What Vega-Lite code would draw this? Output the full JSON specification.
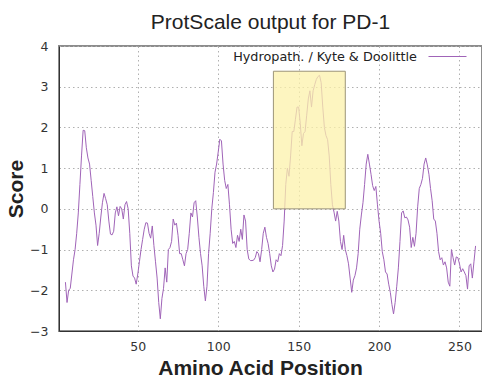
{
  "$schema": "https://vega.github.io/schema/vega-lite/v6.json",
  "width": 423,
  "height": 285,
  "autosize": "none",
  "padding": {"left": 59, "top": 46, "right": 0, "bottom": 49},
  "background": "white",
  "title": {"text": "ProtScale output for PD-1", "font": "Liberation Sans", "fontSize": 21, "fontWeight": "normal", "color": "#222222", "anchor": "middle", "baseline": "alphabetic", "offset": 16, "dy": 29},
  "config": {
    "view": {"stroke": "#8c8c8c", "strokeWidth": 2},
    "axis": {"grid": true, "gridColor": "#b0b0b0", "gridDash": [1.5, 3], "gridWidth": 1, "domainColor": "#333333", "domainWidth": 1, "labelFont": "DejaVu Sans", "labelFontSize": 12.5, "labelColor": "#333333", "titleFont": "Liberation Sans", "titleFontSize": 21, "titleFontWeight": "bold", "titleColor": "#222222", "ticks": false}
  },
  "layer": [
    {
      "data": {"values": [
        {"pos":5,"score":-1.8},{"pos":6,"score":-2.3},{"pos":7,"score":-2.0},{"pos":8,"score":-1.95},{"pos":9,"score":-1.6},
        {"pos":10,"score":-1.25},{"pos":11,"score":-1.0},{"pos":12,"score":-0.6},{"pos":13,"score":-0.1},{"pos":14,"score":0.6},
        {"pos":15,"score":1.3},{"pos":16,"score":1.93},{"pos":17,"score":1.92},{"pos":18,"score":1.5},{"pos":19,"score":1.25},
        {"pos":20,"score":1.1},{"pos":21,"score":0.7},{"pos":22,"score":0.3},{"pos":23,"score":-0.1},{"pos":24,"score":-0.4},
        {"pos":25,"score":-0.9},{"pos":26,"score":-0.6},{"pos":27,"score":-0.2},{"pos":28,"score":0.15},{"pos":29,"score":0.38},
        {"pos":30,"score":0.25},{"pos":31,"score":0.1},{"pos":32,"score":-0.3},{"pos":33,"score":-0.62},{"pos":34,"score":-0.64},
        {"pos":35,"score":-0.55},{"pos":36,"score":-0.1},{"pos":37,"score":0.05},{"pos":38,"score":-0.17},{"pos":39,"score":0.06},
        {"pos":40,"score":0.0},{"pos":41,"score":-0.25},{"pos":42,"score":0.1},{"pos":43,"score":0.18},{"pos":44,"score":0.0},
        {"pos":45,"score":-0.6},{"pos":46,"score":-1.4},{"pos":47,"score":-1.65},{"pos":48,"score":-1.7},{"pos":49,"score":-1.85},
        {"pos":50,"score":-1.6},{"pos":51,"score":-1.3},{"pos":52,"score":-1.0},{"pos":53,"score":-0.75},{"pos":54,"score":-0.5},
        {"pos":55,"score":-0.34},{"pos":56,"score":-0.35},{"pos":57,"score":-0.6},{"pos":58,"score":-0.72},{"pos":59,"score":-0.42},
        {"pos":60,"score":-0.9},{"pos":61,"score":-1.3},{"pos":62,"score":-1.7},{"pos":63,"score":-2.3},{"pos":64,"score":-2.7},
        {"pos":65,"score":-2.2},{"pos":66,"score":-1.95},{"pos":67,"score":-1.45},{"pos":68,"score":-1.8},{"pos":69,"score":-1.0},
        {"pos":70,"score":-0.95},{"pos":71,"score":-0.8},{"pos":72,"score":-0.25},{"pos":73,"score":-0.4},{"pos":74,"score":-0.35},
        {"pos":75,"score":-0.65},{"pos":76,"score":-1.1},{"pos":77,"score":-1.1},{"pos":78,"score":-1.25},{"pos":79,"score":-1.4},
        {"pos":80,"score":-1.1},{"pos":81,"score":-1.0},{"pos":82,"score":-0.6},{"pos":83,"score":-0.1},{"pos":84,"score":-0.2},
        {"pos":85,"score":0.15},{"pos":86,"score":0.2},{"pos":87,"score":-0.2},{"pos":88,"score":-0.7},{"pos":89,"score":-1.1},
        {"pos":90,"score":-1.4},{"pos":91,"score":-1.9},{"pos":92,"score":-2.26},{"pos":93,"score":-1.9},{"pos":94,"score":-1.1},
        {"pos":95,"score":-0.6},{"pos":96,"score":0.0},{"pos":97,"score":0.4},{"pos":98,"score":0.9},{"pos":99,"score":1.1},
        {"pos":100,"score":1.4},{"pos":101,"score":1.71},{"pos":102,"score":1.67},{"pos":103,"score":1.1},{"pos":104,"score":0.7},
        {"pos":105,"score":0.5},{"pos":106,"score":0.6},{"pos":107,"score":0.1},{"pos":108,"score":-0.5},{"pos":109,"score":-0.85},
        {"pos":110,"score":-0.8},{"pos":111,"score":-0.95},{"pos":112,"score":-0.65},{"pos":113,"score":-0.8},{"pos":114,"score":-0.5},
        {"pos":115,"score":-0.75},{"pos":116,"score":-0.15},{"pos":117,"score":-0.3},{"pos":118,"score":-1.0},{"pos":119,"score":-1.23},
        {"pos":120,"score":-1.27},{"pos":121,"score":-1.27},{"pos":122,"score":-1.26},{"pos":123,"score":-1.2},{"pos":124,"score":-1.05},
        {"pos":125,"score":-1.1},{"pos":126,"score":-1.3},{"pos":127,"score":-1.0},{"pos":128,"score":-0.6},{"pos":129,"score":-0.45},
        {"pos":130,"score":-0.7},{"pos":131,"score":-0.85},{"pos":132,"score":-1.1},{"pos":133,"score":-1.4},{"pos":134,"score":-1.55},
        {"pos":135,"score":-1.48},{"pos":136,"score":-1.25},{"pos":137,"score":-1.3},{"pos":138,"score":-1.1},{"pos":139,"score":-1.15},
        {"pos":140,"score":-0.9},{"pos":141,"score":-0.3},{"pos":142,"score":0.6},{"pos":143,"score":1.0},{"pos":144,"score":0.8},
        {"pos":145,"score":1.3},{"pos":146,"score":1.9},{"pos":147,"score":1.9},{"pos":148,"score":2.2},{"pos":149,"score":2.5},
        {"pos":150,"score":2.5},{"pos":151,"score":2.1},{"pos":152,"score":1.55},{"pos":153,"score":1.85},{"pos":154,"score":1.9},
        {"pos":155,"score":2.3},{"pos":156,"score":2.7},{"pos":157,"score":2.9},{"pos":158,"score":2.5},{"pos":159,"score":2.9},
        {"pos":160,"score":3.05},{"pos":161,"score":3.18},{"pos":162,"score":3.25},{"pos":163,"score":3.28},{"pos":164,"score":3.1},
        {"pos":165,"score":2.5},{"pos":166,"score":2.0},{"pos":167,"score":1.8},{"pos":168,"score":1.7},{"pos":169,"score":1.3},
        {"pos":170,"score":0.6},{"pos":171,"score":0.1},{"pos":172,"score":-0.08},{"pos":173,"score":-0.3},{"pos":174,"score":-0.06},
        {"pos":175,"score":-0.3},{"pos":176,"score":-0.8},{"pos":177,"score":-1.0},{"pos":178,"score":-0.65},{"pos":179,"score":-1.0},
        {"pos":180,"score":-1.15},{"pos":181,"score":-1.35},{"pos":182,"score":-1.7},{"pos":183,"score":-2.05},{"pos":184,"score":-1.75},
        {"pos":185,"score":-1.64},{"pos":186,"score":-1.45},{"pos":187,"score":-1.1},{"pos":188,"score":-0.5},{"pos":189,"score":-0.15},
        {"pos":190,"score":0.15},{"pos":191,"score":0.6},{"pos":192,"score":1.1},{"pos":193,"score":1.34},{"pos":194,"score":1.1},
        {"pos":195,"score":0.85},{"pos":196,"score":0.57},{"pos":197,"score":0.45},{"pos":198,"score":0.55},{"pos":199,"score":0.1},
        {"pos":200,"score":-0.3},{"pos":201,"score":-0.6},{"pos":202,"score":-1.05},{"pos":203,"score":-1.25},{"pos":204,"score":-1.55},
        {"pos":205,"score":-1.6},{"pos":206,"score":-1.85},{"pos":207,"score":-2.05},{"pos":208,"score":-2.35},{"pos":209,"score":-2.58},
        {"pos":210,"score":-2.3},{"pos":211,"score":-1.9},{"pos":212,"score":-1.45},{"pos":213,"score":-0.8},{"pos":214,"score":-0.1},
        {"pos":215,"score":-0.05},{"pos":216,"score":-0.22},{"pos":217,"score":-0.2},{"pos":218,"score":-0.27},{"pos":219,"score":-0.45},
        {"pos":220,"score":-0.95},{"pos":221,"score":-0.7},{"pos":222,"score":-0.92},{"pos":223,"score":-0.6},{"pos":224,"score":0.05},
        {"pos":225,"score":0.5},{"pos":226,"score":0.6},{"pos":227,"score":0.75},{"pos":228,"score":1.1},{"pos":229,"score":1.25},
        {"pos":230,"score":1.08},{"pos":231,"score":0.85},{"pos":232,"score":0.5},{"pos":233,"score":0.2},{"pos":234,"score":-0.25},
        {"pos":235,"score":-0.3},{"pos":236,"score":-0.6},{"pos":237,"score":-1.05},{"pos":238,"score":-1.25},{"pos":239,"score":-1.2},
        {"pos":240,"score":-1.38},{"pos":241,"score":-1.3},{"pos":242,"score":-1.45},{"pos":243,"score":-1.8},{"pos":244,"score":-1.9},
        {"pos":245,"score":-1.0},{"pos":246,"score":-1.2},{"pos":247,"score":-1.38},{"pos":248,"score":-1.18},{"pos":249,"score":-1.2},
        {"pos":250,"score":-1.35},{"pos":251,"score":-1.55},{"pos":252,"score":-1.47},{"pos":253,"score":-1.55},{"pos":254,"score":-1.64},
        {"pos":255,"score":-1.97},{"pos":256,"score":-1.4},{"pos":257,"score":-1.35},{"pos":258,"score":-1.7},{"pos":259,"score":-1.3},
        {"pos":260,"score":-0.91}
      ]},
      "mark": {"type": "line", "strokeWidth": 1},
      "encoding": {
        "x": {"field": "pos", "type": "quantitative", "scale": {"domain": [1, 264], "nice": false, "zero": false}, "axis": {"title": "Amino Acid Position", "values": [50, 100, 150, 200, 250], "labelPadding": 9, "titlePadding": 5, "titleX": 201}},
        "y": {"field": "score", "type": "quantitative", "scale": {"domain": [-3, 4], "nice": false, "zero": false}, "axis": {"title": "Score", "values": [-3, -2, -1, 0, 1, 2, 3, 4], "labelPadding": 11, "titlePadding": 3}},
        "color": {"datum": "Hydropath. / Kyte & Doolittle", "scale": {"range": ["#a064b8"]}, "legend": {"orient": "none", "legendX": 369, "legendY": -9, "title": null, "symbolType": "stroke", "symbolSize": 1444, "symbolStrokeWidth": 1, "labelFont": "DejaVu Sans", "labelFontSize": 12.8, "labelColor": "#222222", "labelAlign": "right", "labelOffset": -50, "labelLimit": 400, "padding": 0}}
      }
    },
    {
      "data": {"values": [{"start": 134.3, "end": 179, "low": 0, "high": 3.38}]},
      "mark": {"type": "rect", "fill": "#fcf2ab", "fillOpacity": 0.75, "stroke": "#9c9478", "strokeWidth": 1},
      "encoding": {
        "x": {"field": "start", "type": "quantitative", "title": "Amino Acid Position"},
        "x2": {"field": "end"},
        "y": {"field": "low", "type": "quantitative", "title": "Score"},
        "y2": {"field": "high"}
      }
    }
  ]
}
